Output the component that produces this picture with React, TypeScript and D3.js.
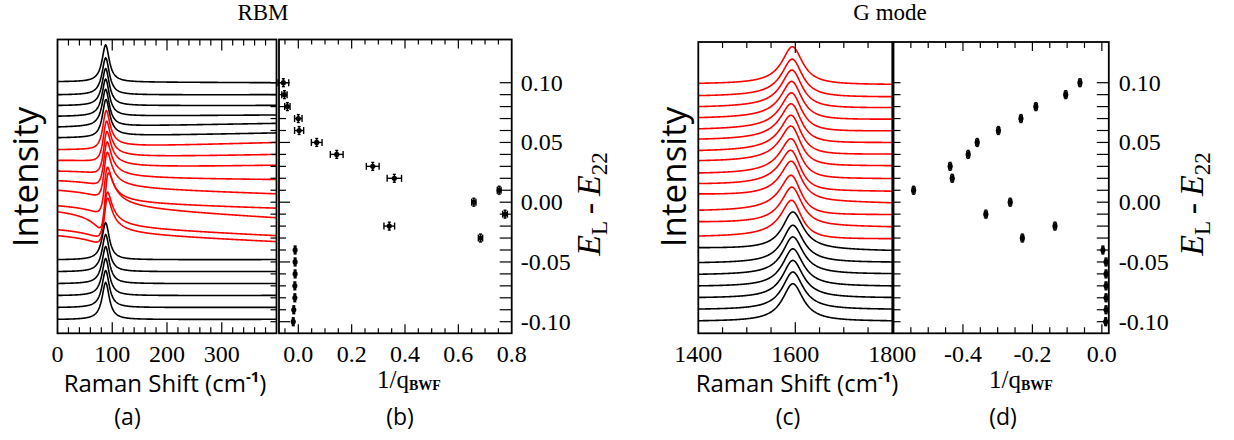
import React from "react";
import * as d3 from "d3";

// ---------- DATA ----------
// Laser energy offsets E_L - E_22 (eV), one per spectrum, top to bottom
const E_LEVELS = [0.10, 0.09, 0.08, 0.07, 0.06, 0.05, 0.04, 0.03, 0.02, 0.01, 0.0,
  -0.01, -0.02, -0.03, -0.04, -0.05, -0.06, -0.07, -0.08, -0.09, -0.10];

// Panel (a): RBM spectra
const rbmColors = ["black", "black", "black", "black", "black", "black",
  "red", "red", "red", "red", "red", "red", "red", "red", "red",
  "black", "black", "black", "black", "black", "black"];
// curve level at 0 cm-1 and at 400 cm-1 (in E_L-E_22 axis units)
const rbmLeft = [0.101, 0.090, 0.081, 0.072, 0.063, 0.054, 0.044, 0.035, 0.026, 0.018, 0.010,
  -0.003, -0.008, -0.023, -0.028, -0.048, -0.058, -0.068, -0.078, -0.088, -0.098];
const rbmRight = [0.100, 0.090, 0.081, 0.073, 0.066, 0.058, 0.050, 0.040, 0.031, 0.019, 0.007,
  -0.005, -0.013, -0.028, -0.033, -0.048, -0.058, -0.068, -0.078, -0.088, -0.098];
// lineshape asymmetry used for each drawn RBM spectrum
const rbmShapeInvQ = [0, 0, 0, 0, 0, 0.07, 0.14, 0.22, 0.3, 0.35, 0.4, 0.45, 0.7, 0.45, 0.45,
  0, 0, 0, 0, 0, 0];
const RBM_CENTER = 88;
const RBM_GAMMA = 8;
const RBM_HEIGHT = 0.031;

// Panel (b): RBM 1/q_BWF
const rbmInvQ = [-0.056, -0.052, -0.041, 0.0, 0.003, 0.069, 0.144, 0.279, 0.36, 0.753, 0.658,
  0.775, 0.341, 0.683, -0.012, -0.012, -0.012, -0.013, -0.013, -0.017, -0.019];
const rbmInvQErr = [0.02, 0.01, 0.01, 0.014, 0.017, 0.02, 0.024, 0.024, 0.027, 0.007, 0.008,
  0.009, 0.02, 0.008, 0.003, 0.003, 0.003, 0.003, 0.003, 0.003, 0.003];

// Panel (c): G-mode spectra
const gColors = ["red", "red", "red", "red", "red", "red", "red", "red", "red", "red", "red",
  "red", "red", "red", "black", "black", "black", "black", "black", "black", "black"];
const gLeft = [0.0995, 0.0892, 0.080, 0.0708, 0.0614, 0.0528, 0.0433, 0.0348, 0.0245, 0.0156,
  0.007, -0.0067, -0.0163, -0.0283, -0.038, -0.0505, -0.0603, -0.070, -0.0797, -0.0894, -0.0992];
const gRight = [0.0987, 0.0883, 0.0792, 0.0695, 0.0598, 0.050, 0.0403, 0.0306, 0.0198, 0.0092,
  -0.0005, -0.0103, -0.0205, -0.0305, -0.0403, -0.050, -0.0597, -0.070, -0.0797, -0.0894, -0.0992];
// lineshape asymmetry used for each drawn G-mode spectrum
const gShapeInvQ = [-0.04, -0.06, -0.08, -0.1, -0.12, -0.14, -0.15, -0.16, -0.16, -0.18, -0.13,
  -0.15, -0.08, -0.11, 0, 0, 0, 0, 0, 0, 0];
const G_CENTER = 1595;
const G_GAMMA = 26;
const G_HEIGHT = 0.0315;

// Panel (d): G-mode 1/q_BWF
const gInvQ = [-0.063, -0.104, -0.19, -0.233, -0.298, -0.359, -0.385, -0.437, -0.431, -0.542,
  -0.264, -0.334, -0.135, -0.229, 0.003, 0.012, 0.012, 0.012, 0.012, 0.012, 0.011];
const gInvQErr = [0.004, 0.004, 0.004, 0.004, 0.004, 0.004, 0.004, 0.004, 0.004, 0.004, 0.004,
  0.004, 0.004, 0.004, 0.003, 0.003, 0.003, 0.003, 0.003, 0.003, 0.003];
const E_ERR = 0.0033;

// tick labels
const aTickLabels = [0, 100, 200, 300];
const bTickLabels = [0.0, 0.2, 0.4, 0.6, 0.8];
const cTickLabels = [1400, 1600, 1800];
const dTickLabels = [-0.4, -0.2, 0.0];
const eTickLabels = [0.10, 0.05, 0.0, -0.05, -0.10];

// ---------- LAYOUT ----------
const SERIF = "'Liberation Serif', 'Times New Roman', serif";
const SANS = "'Open Sans', 'Noto Sans', sans-serif";
const BOTTOM = 333.3;
const TICK_Y = 362;
const PANEL_LABEL_Y = 425;
const A = { x0: 57.5, x1: 276.5, top: 39.5 };
const B = { x0: 279, x1: 511.7, top: 39.5 };
const C = { x0: 698.3, x1: 892.3, top: 42 };
const D = { x0: 893.5, x1: 1108.8, top: 42 };

const yE = d3.scaleLinear().domain([0.10, -0.10]).range([82.7, 321.7]);
const xA = d3.scaleLinear().domain([0, 400]).range([A.x0, A.x1]);
const xB = d3.scaleLinear().domain([-0.0724, 0.8]).range([B.x0, B.x1]);
const xC = d3.scaleLinear().domain([1400, 1800]).range([C.x0, C.x1]);
const xD = d3.scaleLinear().domain([-0.6, 0.02]).range([D.x0, D.x1]);

function fano(w: number, w0: number, gamma: number, r: number) {
  const e = (w - w0) / gamma;
  return (1 - r * r + 2 * r * e) / (1 + e * e);
}

function spectrum(xs: number[], w0: number, gamma: number, r: number, H: number, left: number, right: number) {
  const w1 = xs[0];
  const w2 = xs[xs.length - 1];
  const b0 = left - H * fano(w1, w0, gamma, r);
  const b1 = right - H * fano(w2, w0, gamma, r);
  return xs.map((w) => [w, b0 + ((b1 - b0) * (w - w1)) / (w2 - w1) + H * fano(w, w0, gamma, r)] as [number, number]);
}

const fmtE = (v: number) => (Math.abs(v) < 1e-9 ? "0.00" : v.toFixed(2));
const fmt1 = (v: number) => (Math.abs(v) < 1e-9 ? "0.0" : v.toFixed(1));

const eMinor = d3.range(-10, 11).map((i) => i / 100);
const isMajorE = (v: number) => Math.abs(Math.round(v * 20) - v * 20) < 1e-6;

function XTicks({ scale, values, major, top, majorLen, minorLen }: any) {
  return (
    <g stroke="#000" strokeWidth={1.2}>
      {values.map((v: number, i: number) => {
        const x = scale(v);
        const len = major(v) ? majorLen : minorLen;
        return (
          <g key={i}>
            <line x1={x} x2={x} y1={top} y2={top + len} />
            <line x1={x} x2={x} y1={BOTTOM} y2={BOTTOM - len} />
          </g>
        );
      })}
    </g>
  );
}

function YTicks({ x, dir, len, majorLen }: any) {
  return (
    <g stroke="#000" strokeWidth={1.2}>
      {eMinor.map((v, i) => {
        const L = majorLen && isMajorE(v) ? majorLen : len;
        return <line key={i} x1={x} x2={x + dir * L} y1={yE(v)} y2={yE(v)} />;
      })}
    </g>
  );
}

function Points({ xs, xerr, xScale }: any) {
  return (
    <g stroke="#000" fill="#000" strokeWidth={1.4}>
      {E_LEVELS.map((e, i) => {
        const cx = xScale(xs[i]);
        const cy = yE(e);
        const xl = xScale(xs[i] - xerr[i]);
        const xr = xScale(xs[i] + xerr[i]);
        const yt = yE(e + E_ERR);
        const yb = yE(e - E_ERR);
        return (
          <g key={i}>
            <line x1={xl} x2={xr} y1={cy} y2={cy} />
            <line x1={xl} x2={xl} y1={cy - 3.5} y2={cy + 3.5} />
            <line x1={xr} x2={xr} y1={cy - 3.5} y2={cy + 3.5} />
            <line x1={cx} x2={cx} y1={yt} y2={yb} />
            <line x1={cx - 1.5} x2={cx + 1.5} y1={yt} y2={yt} />
            <line x1={cx - 1.5} x2={cx + 1.5} y1={yb} y2={yb} />
            <circle cx={cx} cy={cy} r={2.6} stroke="none" />
          </g>
        );
      })}
    </g>
  );
}

function ELabel({ x, y }: any) {
  return (
    <text transform={`translate(${x},${y}) rotate(-90)`} textAnchor="middle" fontFamily={SERIF} fontSize={34}>
      <tspan fontStyle="italic">E</tspan>
      <tspan fontSize={23} dy={7}>L</tspan>
      <tspan dy={-7}>{"\u2009-\u2009"}</tspan>
      <tspan fontStyle="italic">E</tspan>
      <tspan fontSize={23} dy={7}>22</tspan>
    </text>
  );
}

function QLabel({ x }: any) {
  return (
    <text x={x} y={388} textAnchor="middle" fontFamily={SERIF} fontSize={25}>
      1/q
      <tspan fontSize={14} fontWeight="bold" dy={2}>BWF</tspan>
    </text>
  );
}

function RamanLabel({ x }: any) {
  return (
    <text x={x} y={392} textAnchor="middle" fontFamily={SANS} fontSize={24}>
      Raman Shift (cm
      <tspan fontSize={15} fontWeight="bold" dy={-10}>-1</tspan>
      <tspan dy={10}>)</tspan>
    </text>
  );
}

function PanelLabel({ x, label }: any) {
  return (
    <text x={x} y={PANEL_LABEL_Y} textAnchor="middle" fontFamily={SANS} fontSize={23}>{label}</text>
  );
}

export default function App() {
  const rbmXs = d3.range(0, 400.01, 1);
  const gXs = d3.range(1400, 1800.01, 1);

  const lineA = d3.line<[number, number]>().x((d) => xA(d[0])).y((d) => yE(d[1]));
  const lineC = d3.line<[number, number]>().x((d) => xC(d[0])).y((d) => yE(d[1]));

  const aTicks = d3.range(20, 400, 20);
  const bTicks = d3.range(-1, 16).map((i) => i * 0.05);
  const cTicks = d3.range(1450, 1800, 50);
  const dTicks = d3.range(-11, 1).map((i) => i * 0.05);

  return (
    <svg width={1234} height={440} style={{ position: "absolute", left: 0, top: 0, background: "#fff" }}>
      <defs>
        <clipPath id="clipA"><rect x={A.x0} y={A.top} width={A.x1 - A.x0} height={BOTTOM - A.top} /></clipPath>
        <clipPath id="clipC"><rect x={C.x0} y={C.top} width={C.x1 - C.x0} height={BOTTOM - C.top} /></clipPath>
      </defs>

      {/* titles */}
      <text x={263} y={20} textAnchor="middle" fontFamily={SERIF} fontSize={23}>RBM</text>
      <text x={890} y={20} textAnchor="middle" fontFamily={SERIF} fontSize={23}>G mode</text>

      {/* Panel (a) */}
      <g clipPath="url(#clipA)" fill="none" strokeWidth={1.6}>
        {E_LEVELS.map((e, i) => (
          <path key={i} stroke={rbmColors[i]}
            d={lineA(spectrum(rbmXs, RBM_CENTER, RBM_GAMMA, rbmShapeInvQ[i], RBM_HEIGHT, rbmLeft[i], rbmRight[i])) || ""} />
        ))}
      </g>
      <XTicks scale={xA} values={aTicks} major={(v: number) => v % 100 === 0} top={A.top} majorLen={11} minorLen={6} />
      <YTicks x={A.x1} dir={-1} len={6} />
      <rect x={A.x0} y={A.top} width={A.x1 - A.x0} height={BOTTOM - A.top} fill="none" stroke="#000" strokeWidth={1.8} />
      {aTickLabels.map((v) => (
        <text key={v} x={xA(v)} y={TICK_Y} textAnchor="middle" fontFamily={SERIF} fontSize={24}>{v}</text>
      ))}
      <text transform="translate(38,177) rotate(-90)" textAnchor="middle" fontFamily={SANS} fontSize={35}>Intensity</text>
      <RamanLabel x={165} />
      <PanelLabel x={127.5} label="(a)" />

      {/* Panel (b) */}
      <XTicks scale={xB} values={bTicks} major={(v: number) => Math.abs(Math.round(v * 5) - v * 5) < 1e-6} top={B.top} majorLen={9} minorLen={5} />
      <YTicks x={B.x0} dir={1} len={7} majorLen={11} />
      <YTicks x={B.x1} dir={-1} len={12} />
      <Points xs={rbmInvQ} xerr={rbmInvQErr} xScale={xB} />
      <rect x={B.x0} y={B.top} width={B.x1 - B.x0} height={BOTTOM - B.top} fill="none" stroke="#000" strokeWidth={1.8} />
      {bTickLabels.map((v) => (
        <text key={v} x={xB(v)} y={TICK_Y} textAnchor="middle" fontFamily={SERIF} fontSize={24}>{fmt1(v)}</text>
      ))}
      {eTickLabels.map((v) => (
        <text key={v} x={B.x1 + 9} y={yE(v)} dominantBaseline="central" fontFamily={SERIF} fontSize={24}>{fmtE(v)}</text>
      ))}
      <ELabel x={600} y={204} />
      <QLabel x={409} />
      <PanelLabel x={400} label="(b)" />

      {/* Panel (c) */}
      <g clipPath="url(#clipC)" fill="none" strokeWidth={1.6}>
        {E_LEVELS.map((e, i) => (
          <path key={i} stroke={gColors[i]}
            d={lineC(spectrum(gXs, G_CENTER, G_GAMMA, gShapeInvQ[i], G_HEIGHT, gLeft[i], gRight[i])) || ""} />
        ))}
      </g>
      <XTicks scale={xC} values={cTicks} major={(v: number) => v === 1600} top={C.top} majorLen={11} minorLen={6} />
      <rect x={C.x0} y={C.top} width={C.x1 - C.x0} height={BOTTOM - C.top} fill="none" stroke="#000" strokeWidth={1.8} />
      {cTickLabels.map((v) => (
        <text key={v} x={xC(v)} y={TICK_Y} textAnchor="middle" fontFamily={SERIF} fontSize={24}>{v}</text>
      ))}
      <text transform="translate(686,177) rotate(-90)" textAnchor="middle" fontFamily={SANS} fontSize={35}>Intensity</text>
      <RamanLabel x={797} />
      <PanelLabel x={788} label="(c)" />

      {/* Panel (d) */}
      <XTicks scale={xD} values={dTicks} major={(v: number) => Math.abs(Math.round(v * 5) - v * 5) < 1e-6} top={D.top} majorLen={9} minorLen={6} />
      <YTicks x={D.x0} dir={1} len={7} />
      <YTicks x={D.x1} dir={-1} len={12} />
      <Points xs={gInvQ} xerr={gInvQErr} xScale={xD} />
      <rect x={D.x0} y={D.top} width={D.x1 - D.x0} height={BOTTOM - D.top} fill="none" stroke="#000" strokeWidth={1.8} />
      {dTickLabels.map((v) => (
        <text key={v} x={xD(v)} y={TICK_Y} textAnchor="middle" fontFamily={SERIF} fontSize={24}>{fmt1(v)}</text>
      ))}
      {eTickLabels.map((v) => (
        <text key={v} x={D.x1 + 10} y={yE(v)} dominantBaseline="central" fontFamily={SERIF} fontSize={24}>{fmtE(v)}</text>
      ))}
      <ELabel x={1203} y={204} />
      <QLabel x={1021} />
      <PanelLabel x={1003} label="(d)" />
    </svg>
  );
}
